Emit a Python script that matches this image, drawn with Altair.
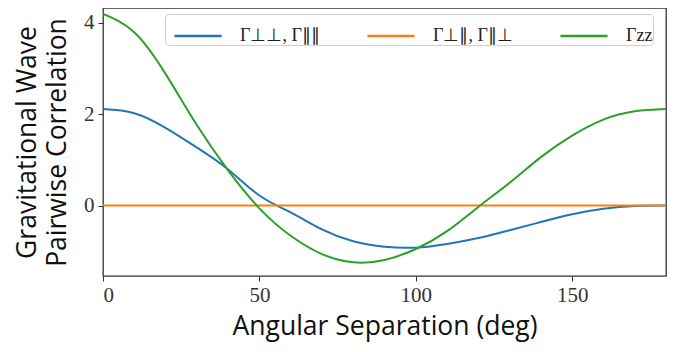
import altair as alt
import pandas as pd

angles = [0, 10, 20, 30, 40, 50, 60, 70, 80, 90, 100, 110, 120, 130, 140, 150, 160, 170, 180]
gamma_pp = [2.11, 2.02, 1.70, 1.27, 0.79, 0.22, -0.15, -0.52, -0.78, -0.90, -0.92, -0.84, -0.71, -0.54, -0.36, -0.19, -0.07, -0.01, 0.0]
gamma_cross = [0.0] * len(angles)
gamma_zz = [4.19, 3.79, 2.88, 1.76, 0.77, -0.06, -0.66, -1.06, -1.24, -1.19, -0.95, -0.56, -0.03, 0.50, 1.06, 1.53, 1.88, 2.06, 2.11]

series_names = ["Γ⊥⊥, Γ∥∥", "Γ⊥∥, Γ∥⊥", "Γzz"]
series_colors = ["#1f77b4", "#ff7f0e", "#2ca02c"]

rows = []
for name, vals in zip(series_names, [gamma_pp, gamma_cross, gamma_zz]):
    for a, v in zip(angles, vals):
        rows.append({"angle": a, "value": v, "series": name})
df = pd.DataFrame(rows)

chart = alt.Chart(df).mark_line(strokeWidth=2, interpolate="natural", clip=True).encode(
    x=alt.X("angle:Q",
            scale=alt.Scale(domain=[0, 180], nice=False, zero=False),
            axis=alt.Axis(values=[0, 50, 100, 150], title="Angular Separation (deg)",
                          grid=False, domain=False, tickSize=5, tickColor="#333",
                          labelFont="Liberation Serif", labelFontSize=21, labelColor="#333",
                          labelPadding=3, titleFont="Open Sans", titleFontSize=26.5,
                          titleFontWeight="normal", titleColor="#111", titlePadding=8)),
    y=alt.Y("value:Q",
            scale=alt.Scale(domain=[-1.54, 4.32], nice=False, zero=False),
            axis=alt.Axis(values=[0, 2, 4], title=["Gravitational Wave", "Pairwise Correlation"],
                          grid=False, domain=False, tickSize=5, tickColor="#333",
                          labelFont="Liberation Serif", labelFontSize=21, labelColor="#333",
                          labelPadding=4, titleFont="Open Sans", titleFontSize=26.5,
                          titleFontWeight="normal", titleColor="#111", titlePadding=12,
                          titleLineHeight=30)),
    color=alt.Color("series:N",
                    scale=alt.Scale(domain=series_names, range=series_colors),
                    sort=series_names,
                    legend=alt.Legend(title=None, orient="none", legendX=62, legendY=6,
                                      direction="horizontal",
                                      symbolType="M-1.15,0L1.15,0",
                                      symbolSize=1681, symbolStrokeWidth=2.5,
                                      symbolOffset=11,
                                      labelFont="Liberation Serif", labelFontSize=18,
                                      labelColor="#222", labelOffset=20, columnPadding=38,
                                      padding=0, fillColor="white", strokeColor="#d0d0d0",
                                      cornerRadius=4)),
).properties(
    width=563, height=268,
    autosize=alt.AutoSizeParams(type="none"),
    padding={"left": 95, "top": 0, "right": 10, "bottom": 72},
).configure_view(stroke="#333", strokeWidth=1.3)

chart.save("out.html", embed_options={"renderer": "svg", "actions": False})
